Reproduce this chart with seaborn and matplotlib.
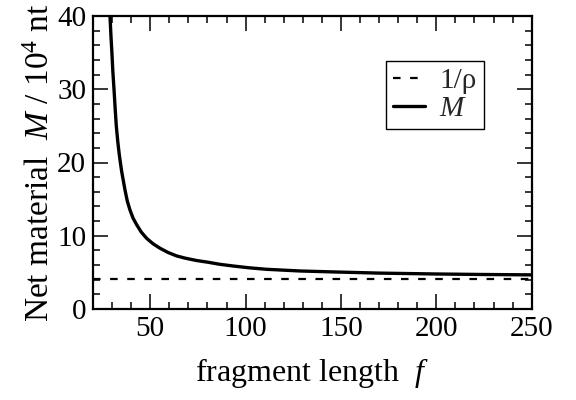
import matplotlib
matplotlib.use("Agg")
import matplotlib.pyplot as plt
from matplotlib.ticker import MultipleLocator
import seaborn as sns
import pandas as pd

# data
fragment_length = [28.9, 29.4, 29.9, 30.4, 31.0, 31.6, 32.2, 33.0, 33.8, 35.0, 36.8,
                   38.0, 39.4, 41.0, 42.9, 45.3, 48.1, 51.5, 55.1, 59.3, 63.9, 68.5,
                   74.3, 80.4, 86.5, 93.5, 102.0, 111.0, 128.5, 147.7, 170.0, 200.0,
                   225.0, 250.0]
net_material = [40.0, 37.3, 35.0, 32.4, 30.0, 27.4, 25.0, 22.8, 21.0, 18.8, 16.2,
                14.7, 13.5, 12.4, 11.5, 10.5, 9.65, 8.9, 8.3, 7.72, 7.24, 6.93,
                6.62, 6.38, 6.1, 5.87, 5.62, 5.42, 5.19, 5.05, 4.9, 4.78,
                4.71, 4.66]
inv_rho_x = [20, 250]
inv_rho_y = [4.1, 4.1]

sns.set_theme(style="ticks")
plt.rcParams["font.family"] = ["Liberation Serif", "DejaVu Serif"]
plt.rcParams["mathtext.fontset"] = "custom"
plt.rcParams["mathtext.rm"] = "Liberation Serif"
plt.rcParams["mathtext.it"] = "Liberation Serif:italic"

fig = plt.figure(figsize=(5.76, 4.0), dpi=100)
ax = fig.add_axes([0.1615, 0.2275, 0.9230 - 0.1615, 0.96 - 0.2275])

df_m = pd.DataFrame({"f": fragment_length, "M": net_material})
df_r = pd.DataFrame({"f": inv_rho_x, "M": inv_rho_y})

sns.lineplot(data=df_r, x="f", y="M", ax=ax, color="black", linewidth=1.6,
             dashes=False, label="1/ρ", sort=False)
ax.lines[-1].set_dashes((3.4, 4.3))
sns.lineplot(data=df_m, x="f", y="M", ax=ax, color="black", linewidth=2.4,
             label=r"$M$", sort=False)

ax.set_xlim(20, 250)
ax.set_ylim(0, 40)
ax.xaxis.set_major_locator(MultipleLocator(50))
ax.xaxis.set_minor_locator(MultipleLocator(10))
ax.yaxis.set_major_locator(MultipleLocator(10))
ax.yaxis.set_minor_locator(MultipleLocator(2))
ax.tick_params(which="both", direction="in", top=True, right=True, colors="black",
               labelsize=21, width=1.1)
ax.tick_params(which="major", length=10.5, pad=5)
ax.tick_params(which="minor", length=5)
for s in ax.spines.values():
    s.set_visible(True)
    s.set_linewidth(1.6)
    s.set_color("black")

ax.set_xlabel(r"fragment length  $f$", fontsize=23, color="black", labelpad=10)
ax.set_ylabel(r"Net material  $M$ / 10$^4$ nt", fontsize=24, color="black", labelpad=1)

leg = ax.legend(loc="upper right", bbox_to_anchor=(0.891, 0.848), fontsize=21,
                frameon=True, fancybox=False, handlelength=1.08, handletextpad=0.5,
                borderpad=0.25, labelspacing=0.05, borderaxespad=0)
leg.get_frame().set_edgecolor("black")
leg.get_frame().set_linewidth(1.0)
leg.get_frame().set_alpha(1)

fig.savefig("out.png", dpi=100)
